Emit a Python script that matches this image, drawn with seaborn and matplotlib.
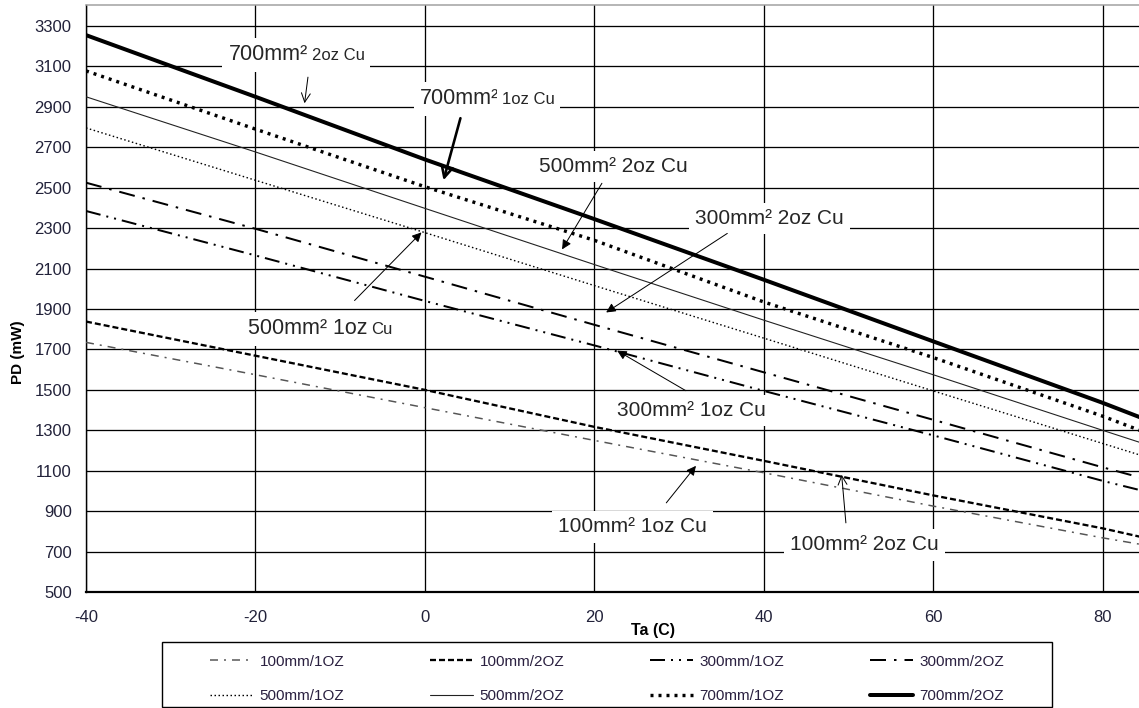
import matplotlib
matplotlib.use("Agg")
import matplotlib.pyplot as plt
from matplotlib.patches import Rectangle
import seaborn as sns
import pandas as pd

# --- DATA ---
TA = [-40, -20, 0, 20, 40, 60, 80, 85]
PD_100_1OZ = [1735, 1575, 1412, 1250, 1090, 925, 768, 732]
PD_100_2OZ = [1838, 1669, 1500, 1317, 1149, 978, 815, 768]
PD_300_1OZ = [2385, 2165, 1940, 1720, 1495, 1275, 1050, 998]
PD_300_2OZ = [2525, 2297, 2060, 1822, 1587, 1352, 1117, 1060]
PD_500_1OZ = [2796, 2537, 2278, 2016, 1756, 1495, 1235, 1170]
PD_500_2OZ = [2950, 2677, 2398, 2120, 1845, 1575, 1300, 1232]
PD_700_1OZ = [3078, 2790, 2505, 2240, 1935, 1660, 1370, 1290]
PD_700_2OZ = [3255, 2950, 2640, 2345, 2045, 1740, 1436, 1355]

SERIES_NAMES = ['100mm/1OZ', '100mm/2OZ', '300mm/1OZ', '300mm/2OZ',
                '500mm/1OZ', '500mm/2OZ', '700mm/1OZ', '700mm/2OZ']
SERIES_VALUES = [PD_100_1OZ, PD_100_2OZ, PD_300_1OZ, PD_300_2OZ,
                 PD_500_1OZ, PD_500_2OZ, PD_700_1OZ, PD_700_2OZ]

X_TICKS = [-40, -20, 0, 20, 40, 60, 80]
Y_TICKS = list(range(500, 3301, 200))

# callouts: big text, small text, big text right edge (or centre), small text left edge,
# text y, arrow tail, arrow tip, arrow kind
CALLOUTS = [
    ('700mm²', '2oz Cu', -13.84, -13.37, 3131, (-13.8, 3047), (-14.2, 2918), 'open'),
    ('700mm²', '1oz Cu', 8.79, 9.14, 2913, (4.2, 2844), (2.2, 2537), 'thick'),
    ('500mm² 2oz Cu', '', 22.2, None, 2606, (20.9, 2522), (16.2, 2195), 'solid'),
    ('300mm² 2oz Cu', '', 40.7, None, 2348, (35.7, 2274), (21.4, 1883), 'solid'),
    ('300mm² 1oz Cu', '', 31.5, None, 1397, (30.8, 1496), (22.7, 1694), 'solid'),
    ('500mm² 1oz', 'Cu', -6.77, -6.29, 1774, (-8.3, 1942), (-0.4, 2279), 'solid'),
    ('100mm² 1oz Cu', '', 24.5, None, 822, (28.5, 941), (32.0, 1124), 'solid'),
    ('100mm² 2oz Cu', '', 51.9, None, 733, (49.7, 842), (49.2, 1080), 'open'),
]

# --- STYLE ---
PX = 0.72  # one pixel in points at 100 dpi
STYLES = {
    '100mm/1OZ': dict(color='#555555', lw=1.5 * PX, ls=(0, (8 * PX, 6 * PX, 2 * PX, 6 * PX))),
    '100mm/2OZ': dict(color='black', lw=2.3 * PX, ls=(0, (6 * PX, 3 * PX))),
    '300mm/1OZ': dict(color='black', lw=2.0 * PX, ls=(0, (15 * PX, 6 * PX, 2 * PX, 6 * PX, 2 * PX, 6 * PX))),
    '300mm/2OZ': dict(color='black', lw=2.0 * PX, ls=(0, (16 * PX, 8 * PX, 2.5 * PX, 8 * PX))),
    '500mm/1OZ': dict(color='black', lw=1.4 * PX, ls=(0, (1.5 * PX, 2.5 * PX))),
    '500mm/2OZ': dict(color='#222222', lw=1.1 * PX, ls='-'),
    '700mm/1OZ': dict(color='black', lw=3.4 * PX, ls=(0, (3 * PX, 5 * PX))),
    '700mm/2OZ': dict(color='black', lw=4.0 * PX, ls='-'),
}

sns.set_theme(style='white')
plt.rcParams['lines.scale_dashes'] = False
plt.rcParams['axes.unicode_minus'] = False
plt.rcParams['font.family'] = ['Liberation Sans', 'DejaVu Sans']

W, H = 1139, 708
fig = plt.figure(figsize=(W / 100, H / 100), dpi=100)
fig.patch.set_facecolor('white')
ax = fig.add_axes([86 / W, (H - 592) / H, 1 - 86 / W, (592 - 5) / H])

lines = {}
for name, values in zip(SERIES_NAMES, SERIES_VALUES):
    df = pd.DataFrame({'Ta': TA, 'PD': values})
    st = STYLES[name]
    sns.lineplot(data=df, x='Ta', y='PD', ax=ax, color=st['color'],
                 linewidth=st['lw'], linestyle=st['ls'], label=name,
                 legend=False, zorder=3)
    lines[name] = ax.get_lines()[-1]
    lines[name].set_dash_capstyle('butt')

ax.set_xlim(-40, 84.3)
ax.set_ylim(500, 3404)
ax.set_xticks(X_TICKS)
ax.set_yticks(Y_TICKS)
ax.grid(True, color='black', linewidth=1.3 * PX)
ax.set_axisbelow(True)
ax.set_xlabel('')
ax.set_ylabel('')

for side in ['left', 'bottom']:
    ax.spines[side].set_color('black')
ax.spines['left'].set_linewidth(1.4 * PX)
ax.spines['bottom'].set_linewidth(2.2 * PX)
ax.spines['top'].set_color('#a0a0a0')
ax.spines['top'].set_linewidth(1.5 * PX)
ax.spines['right'].set_visible(False)

ax.tick_params(axis='both', direction='out', length=6 * PX, width=1.3 * PX,
               color='black', labelsize=12, labelcolor='#22223a')
ax.tick_params(axis='y', pad=6)
ax.tick_params(axis='x', pad=9)

fig.text(18 / W, 1 - 352 / H, 'PD (mW)', rotation=90, ha='center', va='center',
         fontsize=11, fontweight='bold', color='black')
fig.text(653 / W, 1 - 630 / H, 'Ta (C)', ha='center', va='center',
         fontsize=11.5, fontweight='bold', color='black')

# callouts with white boxes that hide the grid under them
box = dict(boxstyle='square,pad=0.3', fc='white', ec='none')
for big, small, bx, sx, ty, tail, tip, kind in CALLOUTS:
    if small:
        ax.text(bx, ty, big, ha='right', va='baseline', fontsize=15.5,
                color='#262626', zorder=5, bbox=box)
        ax.text(sx, ty, small, ha='left', va='baseline', fontsize=12,
                color='#262626', zorder=5, bbox=box)
    else:
        ax.text(bx, ty, big, ha='center', va='center', fontsize=15,
                color='#262626', zorder=5, bbox=box)
    if kind == 'open':
        props = dict(arrowstyle='->', color='black', lw=1.0 * PX, mutation_scale=16,
                     shrinkA=0, shrinkB=0)
    elif kind == 'thick':
        props = dict(arrowstyle='->', color='black', lw=2.6 * PX, mutation_scale=20,
                     shrinkA=0, shrinkB=0)
    else:
        props = dict(arrowstyle='-|>', color='black', lw=1.0 * PX, mutation_scale=14,
                     shrinkA=0, shrinkB=0)
    ax.annotate('', xy=tip, xytext=tail, arrowprops=props, zorder=6)

# legend filled row by row like the reference (matplotlib fills column-wise)
order = [0, 4, 1, 5, 2, 6, 3, 7]
handles = [lines[SERIES_NAMES[i]] for i in order]
labels = [SERIES_NAMES[i] for i in order]
leg = fig.legend(handles, labels, ncol=4, loc='center',
                 bbox_to_anchor=(607 / W, 1 - 679 / H),
                 frameon=False, handlelength=2.8, handletextpad=0.45,
                 columnspacing=5.6, labelspacing=1.35, borderpad=0,
                 prop={'size': 11})
for t in leg.get_texts():
    t.set_color('#2a2040')
fig.patches.append(Rectangle((162 / W, 1 - 707 / H), (1052 - 162) / W, (707 - 642) / H,
                             transform=fig.transFigure, fill=False,
                             edgecolor='black', linewidth=1.4 * PX))

fig.savefig('out.png', dpi=100, facecolor='white')
